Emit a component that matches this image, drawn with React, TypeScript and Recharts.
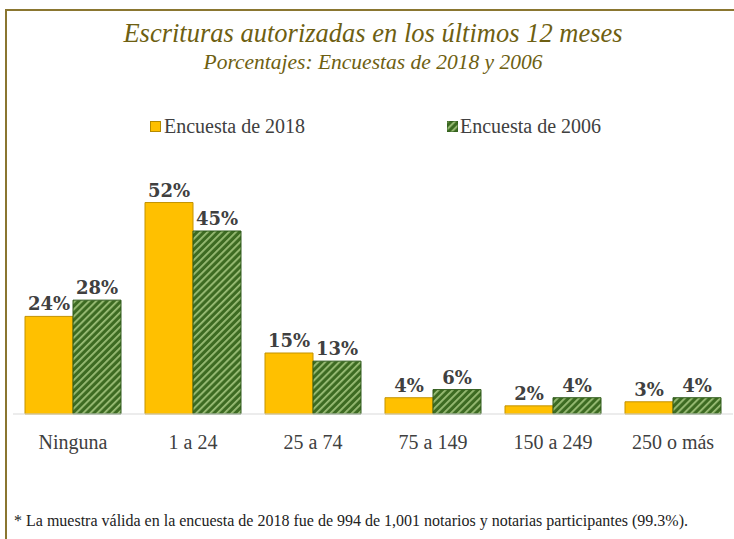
import { Bar, BarChart, LabelList, XAxis, YAxis } from "recharts";

const categories = ["Ninguna", "1 a 24", "25 a 74", "75 a 149", "150 a 249", "250 o más"];
const survey2018 = [24, 52, 15, 4, 2, 3];
const survey2006 = [28, 45, 13, 6, 4, 4];

const data = categories.map((name, i) => ({ name, s2018: survey2018[i], s2006: survey2006[i] }));

const serif = "'Liberation Serif', 'DejaVu Serif', serif";
const labelFont = "'DejaVu Serif', serif";
const olive = "#6e5f12";
const text = "#404040";

const pct = (v: any) => `${v}%`;

export default function App() {
  return (
    <div style={{ position: "absolute", left: 0, top: 0, width: 734, height: 539, background: "#fff", overflow: "hidden", fontFamily: serif }}>
      <div style={{ position: "absolute", left: 5, top: 9, width: 740, height: 540, borderTop: "2px solid #8a7630", borderLeft: "2px solid #8a7630" }} />
      <div style={{ position: "absolute", left: 0, width: 746, top: 18, textAlign: "center", fontStyle: "italic", fontSize: 26.5, color: olive }}>
        Escrituras autorizadas en los últimos 12 meses
      </div>
      <div style={{ position: "absolute", left: 0, width: 746, top: 50, textAlign: "center", fontStyle: "italic", fontSize: 21.5, color: olive }}>
        Porcentajes: Encuestas de 2018 y 2006
      </div>
      <div style={{ position: "absolute", left: 150, top: 115, fontSize: 20, color: text, display: "flex", alignItems: "center" }}>
        <span style={{ width: 9, height: 9, background: "#ffc000", border: "1px solid #b58a00", marginRight: 3 }} />
        Encuesta de 2018
      </div>
      <div style={{ position: "absolute", left: 447, top: 115, fontSize: 20, color: text, display: "flex", alignItems: "center" }}>
        <svg width={11} height={11} style={{ marginRight: 2 }}>
          <rect width={11} height={11} fill="url(#hatchLegend)" stroke="#2f5a1a" />
          <defs>
            <pattern id="hatchLegend" width={5} height={5} patternUnits="userSpaceOnUse" patternTransform="rotate(45)">
              <rect width={5} height={5} fill="#3d6b22" />
              <rect width={1.8} height={5} fill="#9cbf78" />
            </pattern>
          </defs>
        </svg>
        Encuesta de 2006
      </div>
      <div style={{ position: "absolute", left: 14, top: 512, fontSize: 16, color: "#222" }}>
        * La muestra válida en la encuesta de 2018 fue de 994 de 1,001 notarios y notarias participantes (99.3%).
      </div>
      <div style={{ position: "absolute", left: 0, top: 0 }}>
        <BarChart width={734} height={539} data={data} margin={{ top: 170, right: 1, left: 13, bottom: 95 }} barCategoryGap="10%" barGap={0}>
          <defs>
            <pattern id="hatch" width={5} height={5} patternUnits="userSpaceOnUse" patternTransform="rotate(45)">
              <rect width={5} height={5} fill="#3d6b22" />
              <rect width={1.8} height={5} fill="#9cbf78" />
            </pattern>
          </defs>
          <XAxis
            dataKey="name"
            height={30}
            tickLine={false}
            axisLine={{ stroke: "#d9d9d9" }}
            tickMargin={15}
            tick={{ fontSize: 20, fill: text, fontFamily: serif }}
            interval={0}
          />
          <YAxis hide domain={[0, 60]} />
          <Bar dataKey="s2018" fill="#ffc000" stroke="#c39200" strokeWidth={1} isAnimationActive={false}>
            <LabelList dataKey="s2018" position="top" offset={6} formatter={pct} style={{ fontSize: 18, fontWeight: "bold", fill: text, fontFamily: labelFont }} />
          </Bar>
          <Bar dataKey="s2006" fill="url(#hatch)" stroke="#2f5a1a" strokeWidth={1} isAnimationActive={false}>
            <LabelList dataKey="s2006" position="top" offset={6} formatter={pct} style={{ fontSize: 18, fontWeight: "bold", fill: text, fontFamily: labelFont }} />
          </Bar>
        </BarChart>
      </div>
    </div>
  );
}
